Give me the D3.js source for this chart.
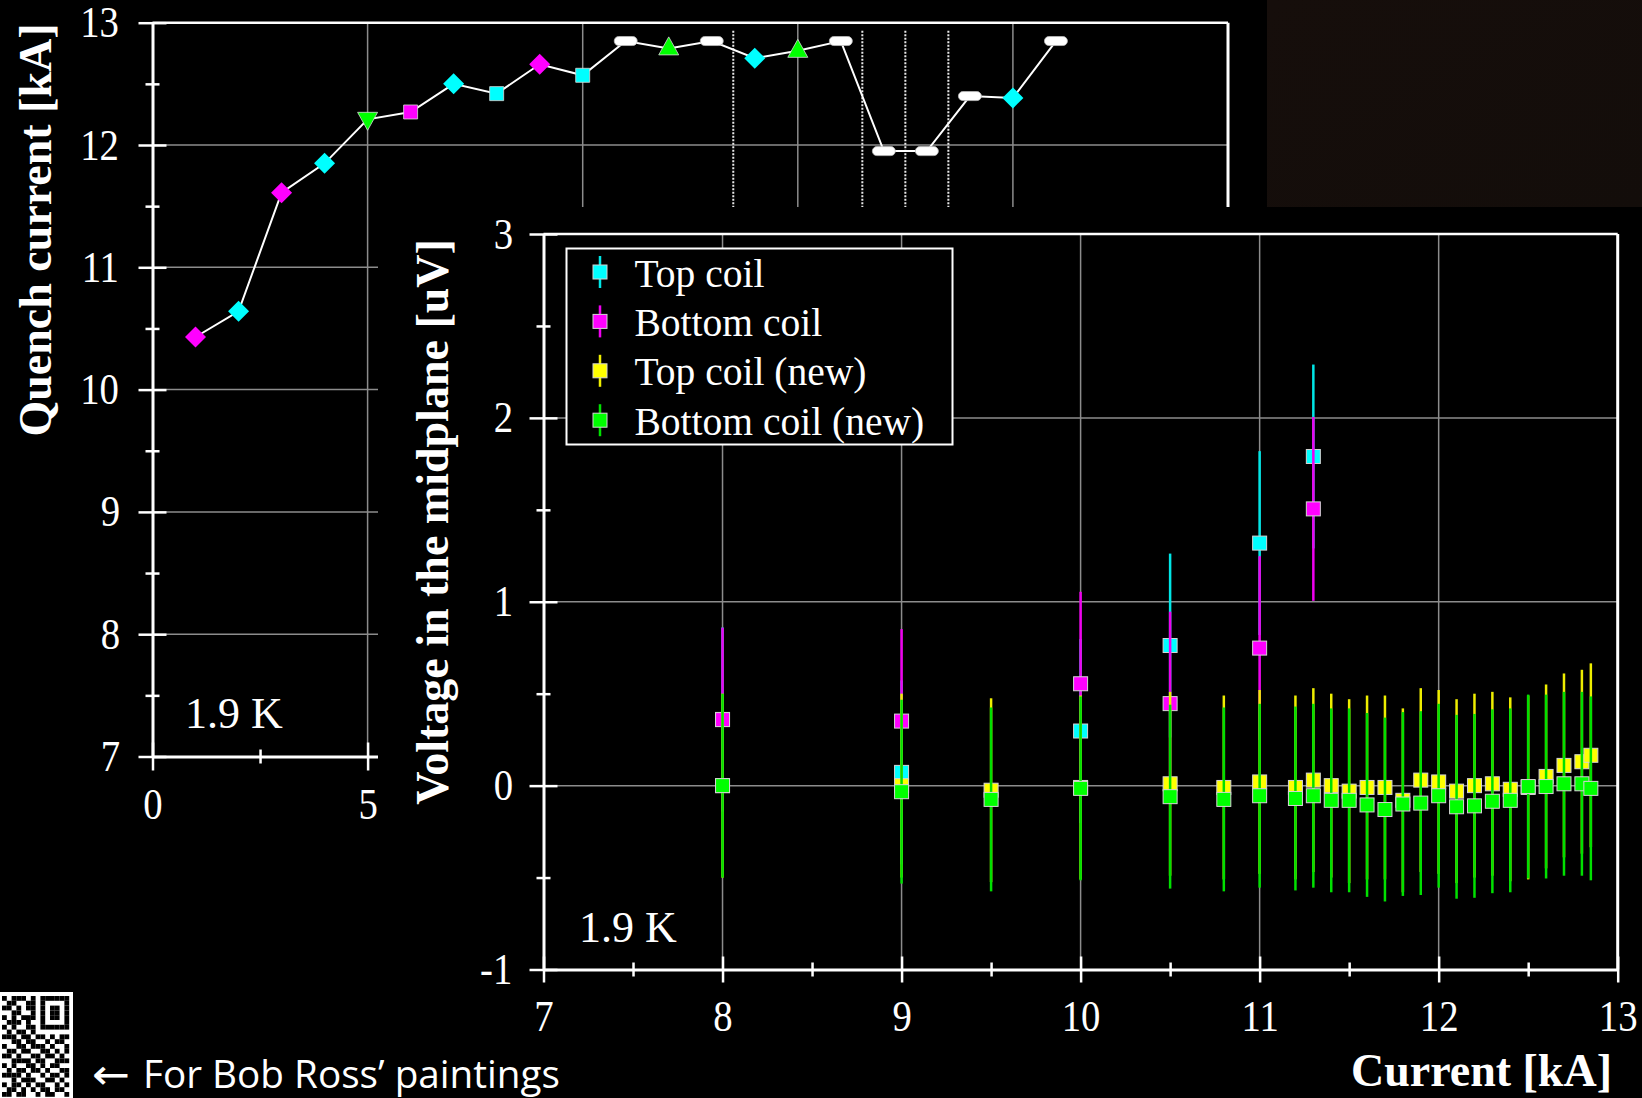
<!DOCTYPE html>
<html><head><meta charset="utf-8">
<script src="https://cdn.jsdelivr.net/npm/d3@7"></script>
<style>
html,body{margin:0;padding:0;background:#000;}
svg{display:block;}
text{font-family:"Liberation Serif","Times New Roman",serif;fill:#fff;}
</style></head><body>
<svg id="c" width="1642" height="1098"></svg>
<script>
// ---------------- DATA ----------------
// Top chart: quench training history
const quenchNumber = [1,2,3,4,5,6,7,8,9,10,11,12,13,14,15,16,17,18,19,20,21];
const quenchCurrent = [10.43,10.64,11.61,11.85,12.21,12.27,12.50,12.42,12.66,12.57,12.85,12.79,12.85,12.71,12.77,12.85,11.95,11.95,12.40,12.385,12.85];
const quenchShape = ["diamond","diamond","diamond","diamond","triDown","square","diamond","square","diamond","square","pill","triUp","pill","diamond","triUp","pill","pill","pill","pill","diamond","pill"];
const quenchColor = ["magenta","cyan","magenta","cyan","green","magenta","cyan","cyan","magenta","cyan","white","green","white","cyan","green","white","white","white","white","cyan","white"];
const thermalCycles = [13.5,16.5,17.5,18.5];
const qTicksY = [7,8,9,10,11,12,13];
const qMinorY = [7.5,8.5,9.5,10.5,11.5,12.5];
const qTicksX = [0,5,10,15,20,25];
const qMinorX = [2.5,7.5,12.5,17.5,22.5];
const qGridY = [8,9,10,11,12];
const qGridX = [5,10,15,20];

// Main chart: midplane voltage vs current
const coilCurrent = [8,9,10,10.5,11,11.3];
const topCoilV = [0.36,0.072,0.297,0.762,1.319,1.79];
const bottomCoilV = [0.359,0.351,0.554,0.446,0.748,1.505];
const newCurrent = [8,9,9.5,10,10.5,10.8,11,11.2,11.3,11.4,11.5,11.6,11.7,11.8,11.9,12,12.1,12.2,12.3,12.4,12.5,12.6,12.7,12.8,12.85];
const topCoilNewV = [0.0,0.0,-0.025,-0.01,0.01,-0.01,0.02,-0.01,0.03,0.0,-0.03,-0.01,-0.01,-0.08,0.03,0.02,-0.03,0.0,0.01,-0.02,-0.01,0.05,0.11,0.13,0.165];
const bottomCoilNewV = [0.0,-0.033,-0.075,-0.015,-0.06,-0.075,-0.055,-0.07,-0.055,-0.08,-0.08,-0.105,-0.13,-0.10,-0.095,-0.055,-0.115,-0.11,-0.085,-0.08,-0.005,-0.005,0.01,0.01,-0.015];
const voltageError = 0.5;
const seriesNames = ["Top coil","Bottom coil","Top coil (new)","Bottom coil (new)"];
const mTicksY = [-1,0,1,2,3];
const mMinorY = [-0.5,0.5,1.5,2.5];
const mTicksX = [7,8,9,10,11,12,13];
const mMinorX = [7.5,8.5,9.5,10.5,11.5,12.5];
const mGridX = [8,9,10,11,12];
const mGridY = [0,1,2];

// ---------------- STYLE ----------------
const COLORS = {magenta:"#ff00ff", cyan:"#00ffff", green:"#00ff00", white:"#ffffff", yellow:"#ffff00"};
const GRID = "#8c8c8c";

const svg = d3.select("#c");
svg.append("rect").attr("width",1642).attr("height",1098).attr("fill","#000");

function crossAxis(g, axisFn, scale, major, minor, bigTick, smallTick, pad, horizontal){
  g.call(axisFn(scale).tickValues(major).tickFormat(d=>String(d)).tickSize(bigTick).tickSizeOuter(0).tickPadding(pad));
  g.selectAll(".tick line").attr(horizontal ? "y2" : "x2", horizontal ? bigTick : -bigTick)
    .attr(horizontal ? "y1" : "x1", horizontal ? -bigTick : bigTick);
  const gm = g.append("g").call(axisFn(scale).tickValues(minor).tickSize(smallTick).tickSizeOuter(0).tickFormat(""));
  gm.select(".domain").remove();
  gm.selectAll(".tick line").attr(horizontal ? "y1" : "x1", horizontal ? -smallTick : smallTick);
  g.selectAll(".domain").attr("stroke","#fff").attr("stroke-width",3);
  g.selectAll(".tick line").attr("stroke","#fff").attr("stroke-width",2.5);
  g.selectAll(".tick text").attr("fill","#fff").attr("font-size",44)
    .attr("font-family","Liberation Serif, serif")
    .style("transform-box","fill-box").style("transform-origin","center").style("transform","scaleX(0.88)");
}

// ---------------- TOP CHART ----------------
const xQ = d3.scaleLinear().domain([0,25]).range([152.5,1228]);
const yQ = d3.scaleLinear().domain([7,13]).range([756.5,22.7]);
const gQ = svg.append("g");

gQ.selectAll(".qhg").data(qGridY).join("line")
  .attr("x1",xQ(0)).attr("x2",xQ(25)).attr("y1",d=>yQ(d)).attr("y2",d=>yQ(d))
  .attr("stroke",GRID).attr("stroke-width",1.5);
gQ.selectAll(".qvg").data(qGridX).join("line")
  .attr("y1",yQ(7)).attr("y2",yQ(13)).attr("x1",d=>xQ(d)).attr("x2",d=>xQ(d))
  .attr("stroke",GRID).attr("stroke-width",1.5);
gQ.selectAll(".sep").data(thermalCycles).join("line")
  .attr("y1",yQ(12.935)).attr("y2",yQ(7)).attr("x1",d=>xQ(d)).attr("x2",d=>xQ(d))
  .attr("stroke","#e8e8e8").attr("stroke-width",2).attr("stroke-dasharray","2,1.5");

const qData = quenchNumber.map((n,i)=>({n, c:quenchCurrent[i], shape:quenchShape[i], color:quenchColor[i]}));
gQ.append("path").datum(qData)
  .attr("d", d3.line().x(d=>xQ(d.n)).y(d=>yQ(d.c)))
  .attr("fill","none").attr("stroke","#fff").attr("stroke-width",2);

const SHAPES = {
  diamond: "M0,-10.5L10.5,0L0,10.5L-10.5,0Z",
  square: "M-7,-7h14v14h-14Z",
  triUp: "M0,-11.5L10,6.5L-10,6.5Z",
  triDown: "M-10,-7L10,-7L0,11Z",
  pill: "M-7,-4.5h14a4.5,4.5 0 0 1 0,9h-14a4.5,4.5 0 0 1 0,-9Z"
};
gQ.selectAll(".qm").data(qData).join("path")
  .attr("transform",d=>`translate(${xQ(d.n)},${yQ(d.c)})`)
  .attr("d",d=>SHAPES[d.shape])
  .attr("fill",d=>COLORS[d.color])
  .attr("stroke",d=>d.color==="white" ? "#bbb" : "#d8d8d8")
  .attr("stroke-width",d=>d.shape==="diamond" ? 0 : 0.8);

// borders
gQ.append("line").attr("x1",xQ(0)).attr("x2",xQ(25)).attr("y1",yQ(13)).attr("y2",yQ(13)).attr("stroke","#fff").attr("stroke-width",2.5);
gQ.append("line").attr("x1",xQ(25)).attr("x2",xQ(25)).attr("y1",yQ(13)).attr("y2",yQ(7)).attr("stroke","#fff").attr("stroke-width",3);

const gQy = gQ.append("g").attr("transform",`translate(${xQ(0)},0)`);
crossAxis(gQy, d3.axisLeft, yQ, qTicksY, qMinorY, 14, 7, 17, false);
const gQx = gQ.append("g").attr("transform",`translate(0,${yQ(7)})`);
crossAxis(gQx, d3.axisBottom, xQ, qTicksX, qMinorX, 14, 7, 17, true);

gQ.append("text").attr("x",185).attr("y",728).attr("font-size",44).text("1.9 K");
gQ.append("text").attr("transform","translate(51,230) rotate(-90)")
  .attr("text-anchor","middle").attr("font-size",46).attr("font-weight","bold")
  .text("Quench current [kA]");

// top-right dark photo area
const grad = svg.append("defs").append("linearGradient").attr("id","ph").attr("x1",0).attr("x2",1).attr("y1",0).attr("y2",1);
grad.append("stop").attr("offset",0).attr("stop-color","#160e0b");
grad.append("stop").attr("offset",1).attr("stop-color","#130d0a");
svg.append("rect").attr("x",1267).attr("y",0).attr("width",375).attr("height",207).attr("fill","url(#ph)");

// ---------------- INSET (MAIN) CHART ----------------
svg.append("rect").attr("x",378).attr("y",207).attr("width",1642-378).attr("height",1098-207).attr("fill","#000");

const xM = d3.scaleLinear().domain([7,13]).range([543.5,1617.7]);
const yM = d3.scaleLinear().domain([-1,3]).range([969.5,234]);
const gM = svg.append("g");

gM.selectAll(".mhg").data(mGridY).join("line")
  .attr("x1",xM(7)).attr("x2",xM(13)).attr("y1",d=>yM(d)).attr("y2",d=>yM(d))
  .attr("stroke",GRID).attr("stroke-width",1.5);
gM.selectAll(".mvg").data(mGridX).join("line")
  .attr("y1",yM(-1)).attr("y2",yM(3)).attr("x1",d=>xM(d)).attr("x2",d=>xM(d))
  .attr("stroke",GRID).attr("stroke-width",1.5);

const series = [
  {name:seriesNames[0], I:coilCurrent, V:topCoilV, fill:COLORS.cyan, bar:"#00e6e6"},
  {name:seriesNames[1], I:coilCurrent, V:bottomCoilV, fill:COLORS.magenta, bar:"#f000f0"},
  {name:seriesNames[2], I:newCurrent, V:topCoilNewV, fill:COLORS.yellow, bar:"#eeee00"},
  {name:seriesNames[3], I:newCurrent, V:bottomCoilNewV, fill:COLORS.green, bar:"#00e000"}
];
series.forEach(s=>{
  const pts = s.I.map((c,i)=>({c, v:s.V[i]}));
  const g = gM.append("g");
  g.selectAll("line").data(pts).join("line")
    .attr("x1",d=>xM(d.c)).attr("x2",d=>xM(d.c))
    .attr("y1",d=>yM(d.v-voltageError)).attr("y2",d=>yM(d.v+voltageError))
    .attr("stroke",s.bar).attr("stroke-width",2.5);
  g.selectAll("rect").data(pts).join("rect")
    .attr("x",d=>xM(d.c)-7).attr("y",d=>yM(d.v)-7).attr("width",14).attr("height",14)
    .attr("fill",s.fill).attr("stroke","#d4d4d4").attr("stroke-width",1);
});

// borders
gM.append("line").attr("x1",xM(7)).attr("x2",xM(13)).attr("y1",yM(3)).attr("y2",yM(3)).attr("stroke","#fff").attr("stroke-width",2.5);
gM.append("line").attr("x1",xM(13)).attr("x2",xM(13)).attr("y1",yM(3)).attr("y2",yM(-1)).attr("stroke","#fff").attr("stroke-width",3);

const gMy = gM.append("g").attr("transform",`translate(${xM(7)},0)`);
crossAxis(gMy, d3.axisLeft, yM, mTicksY, mMinorY, 14, 7, 15, false);
const gMx = gM.append("g").attr("transform",`translate(0,${yM(-1)})`);
crossAxis(gMx, d3.axisBottom, xM, mTicksX, mMinorX, 13, 7, 17, true);

gM.append("text").attr("x",579).attr("y",942).attr("font-size",44).text("1.9 K");
gM.append("text").attr("transform","translate(448,522) rotate(-90)")
  .attr("text-anchor","middle").attr("font-size",46).attr("font-weight","bold")
  .text("Voltage in the midplane [uV]");
gM.append("text").attr("x",1612).attr("y",1086).attr("text-anchor","end")
  .attr("font-size",46).attr("font-weight","bold").text("Current [kA]");

// legend
const lg = gM.append("g");
lg.append("rect").attr("x",566.5).attr("y",248.5).attr("width",386).attr("height",196)
  .attr("fill","#000").attr("stroke","#fff").attr("stroke-width",2);
series.forEach((s,i)=>{
  const cy = 272 + i*49.4;
  lg.append("line").attr("x1",600).attr("x2",600).attr("y1",cy-16).attr("y2",cy+16).attr("stroke",s.bar).attr("stroke-width",2.5);
  lg.append("rect").attr("x",593).attr("y",cy-7).attr("width",14).attr("height",14).attr("fill",s.fill).attr("stroke","#d4d4d4").attr("stroke-width",1);
  lg.append("text").attr("x",634.5).attr("y",cy+14.5).attr("font-size",39.5).text(s.name);
});

// ---------------- FOOTER ----------------
const qrRows = [
"10111010111111","01100110100001","11010110101101","00110010101101","10101110101101",
"01110100100001","10100110111111","01011010000000","11101101101011","00110110010110",
"10011011101001","01101100110101","11010011011010","00111101100111","10100110101100",
"01011011010011","11110100101101","00101110011010","10110101100101","01101010110110",
"11011001011001"];
const qr = svg.append("g");
qr.append("rect").attr("x",0).attr("y",992).attr("width",73).attr("height",106).attr("fill","#fff");
qrRows.forEach((row,r)=>{
  row.split("").forEach((b,c)=>{
    if(b==="1") qr.append("rect").attr("x",2+c*4.8).attr("y",996+r*4.8).attr("width",4.8).attr("height",4.8).attr("fill","#000");
  });
});
svg.append("text").attr("x",92).attr("y",1089)
  .style("font-family","'DejaVu Sans', sans-serif")
  .attr("font-size",42).attr("textLength",38).attr("lengthAdjust","spacingAndGlyphs")
  .text("\u2190");
svg.append("text").attr("x",143).attr("y",1088)
  .style("font-family","'Open Sans', sans-serif")
  .attr("font-size",38).attr("textLength",417).attr("lengthAdjust","spacingAndGlyphs")
  .text("For Bob Ross\u2019 paintings");
</script>
</body></html>
